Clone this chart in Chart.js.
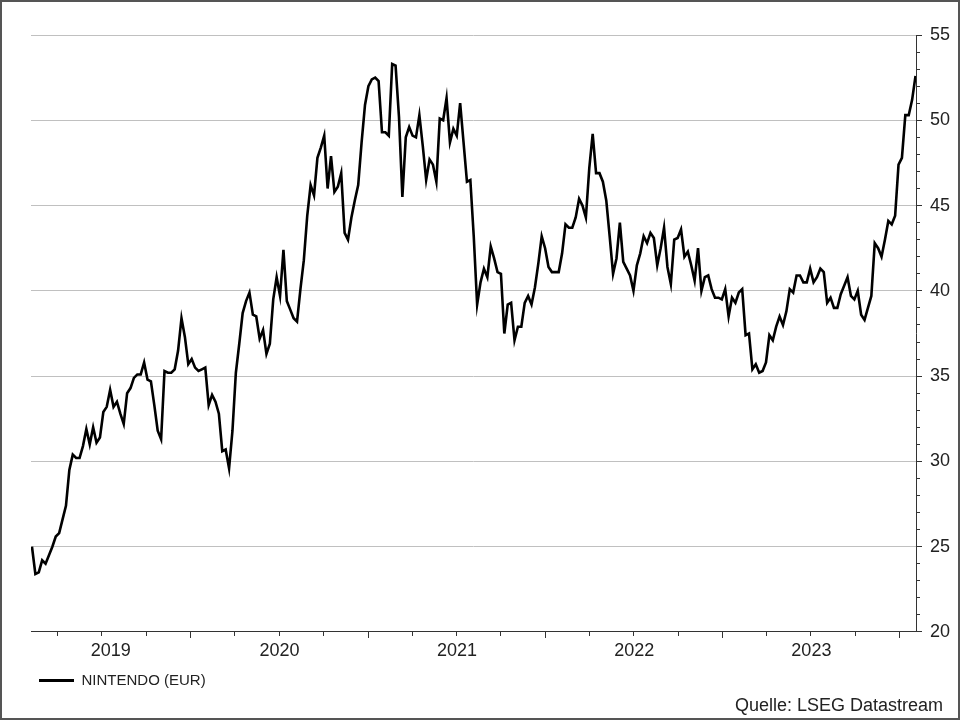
<!DOCTYPE html>
<html>
<head>
<meta charset="utf-8">
<script src="https://cdn.jsdelivr.net/npm/chart.js@4.4.1/dist/chart.umd.min.js"></script>
<style>
  html, body { margin: 0; padding: 0; background: #fff; }
  #wrap { position: relative; width: 960px; height: 720px; }
  #frame { position: absolute; left: 0; top: 0; width: 960px; height: 720px; box-sizing: border-box; border: 2px solid #555; pointer-events: none; }
  canvas { display: block; }
</style>
</head>
<body>
<div id="wrap">
  <canvas id="c" width="960" height="720"></canvas>
  <div id="frame"></div>
</div>
<script>
// ---- Data (weekly closes, EUR) ----
const seriesName = 'NINTENDO (EUR)';
const sourceText = 'Quelle: LSEG Datastream';
const firstWeek = '2019-02-08';           // date of first weekly observation
const axisStart = '2019-02-06';           // left edge of the time axis
const axisEnd = '2024-02-03';             // right edge of the time axis
const yearLabels = ['2019', '2020', '2021', '2022', '2023'];
const yTicks = [20, 25, 30, 35, 40, 45, 50, 55];
const prices = [
  25.0, 23.4, 23.5, 24.2, 24.0, 24.5, 25.0, 25.6, 25.8, 26.6,
  27.4, 29.5, 30.4, 30.2, 30.2, 30.9, 31.9, 31.0, 32.0, 31.1,
  31.4, 32.9, 33.2, 34.2, 33.2, 33.5, 32.8, 32.2, 34.0, 34.3,
  34.9, 35.1, 35.1, 35.8, 34.8, 34.7, 33.3, 31.8, 31.3, 35.3,
  35.2, 35.2, 35.4, 36.5, 38.4, 37.3, 35.7, 36.0, 35.5, 35.3,
  35.4, 35.5, 33.3, 33.9, 33.5, 32.8, 30.6, 30.7, 29.6, 31.8,
  35.2, 36.9, 38.7, 39.4, 39.9, 38.6, 38.5, 37.2, 37.7, 36.3,
  36.9, 39.5, 40.8, 39.7, 42.4, 39.4, 38.9, 38.4, 38.2, 40.1,
  41.8, 44.4, 46.2, 45.6, 47.8, 48.4, 49.1, 46.0, 47.9, 45.8,
  46.1, 46.9, 43.4, 43.0, 44.3, 45.3, 46.2, 48.7, 50.9, 52.0,
  52.4, 52.5, 52.3, 49.3, 49.3, 49.1, 53.3, 53.2, 50.2, 45.5,
  49.0, 49.6, 49.1, 49.0, 50.3, 48.5, 46.5, 47.7, 47.4, 46.4,
  50.1, 50.0, 51.3, 48.7, 49.5, 49.1, 51.0, 48.7, 46.4, 46.5,
  43.2, 39.2, 40.5, 41.3, 40.8, 42.6, 41.9, 41.1, 41.0, 37.5,
  39.2, 39.3, 37.1, 37.9, 37.9, 39.3, 39.7, 39.2, 40.2, 41.6,
  43.2, 42.5, 41.4, 41.1, 41.1, 41.1, 42.2, 43.9, 43.7, 43.7, 44.3,
  45.4, 45.0, 44.3, 47.2, 49.2, 46.9, 46.9, 46.4, 45.3, 43.2,
  41.0, 41.9, 44.0, 41.7, 41.3, 40.9, 40.0, 41.5, 42.2, 43.2,
  42.8, 43.4, 43.1, 41.5, 42.5, 43.7, 41.4, 40.4, 43.0, 43.1,
  43.6, 42.0, 42.3, 41.5, 40.6, 42.5, 40.0, 40.8, 40.9, 40.1,
  39.6, 39.6, 39.5, 40.1, 38.5, 39.6, 39.3, 39.9, 40.1, 37.4,
  37.5, 35.4, 35.7, 35.2, 35.3, 35.8, 37.4, 37.1, 37.9, 38.5,
  38.0, 38.8, 40.1, 39.9, 40.9, 40.9, 40.5, 40.5, 41.3, 40.5,
  40.8, 41.3, 41.1, 39.3, 39.6, 39.0, 39.0, 39.8, 40.3, 40.8,
  39.7, 39.5, 40.0, 38.6, 38.3, 39.0, 39.7, 42.8, 42.5, 42.0,
  43.0, 44.1, 43.9, 44.4, 47.4, 47.8, 50.3, 50.3, 51.2, 52.6
];

// ---- helpers: dates as day numbers since 2019-01-01 ----
const DAY = 864e5;
const ORIGIN = Date.UTC(2019, 0, 1);
function dayNum(iso) { const p = iso.split('-').map(Number); return (Date.UTC(p[0], p[1] - 1, p[2]) - ORIGIN) / DAY; }
function ymdDay(y, m, d) { return (Date.UTC(y, m, d) - ORIGIN) / DAY; }

const xMin = dayNum(axisStart);
const xMax = dayNum(axisEnd);
const d0 = dayNum(firstWeek);
const points = prices.map((v, i) => ({ x: d0 + 7 * i, y: v }));

// quarter tick positions (minor) and January ticks (major)
const quarterTicks = [], janTicks = [];
for (let y = 2019; y <= 2024; y++) {
  for (const m of [0, 3, 6, 9]) {
    const d = ymdDay(y, m, 1);
    if (d >= xMin && d <= xMax) { if (m === 0) janTicks.push(d); else quarterTicks.push(d); }
  }
}
// year labels centred in the visible part of each year
const yearLabelPos = yearLabels.map(s => {
  const y = Number(s);
  const a = Math.max(xMin, ymdDay(y, 0, 1)), b = Math.min(xMax, ymdDay(y + 1, 0, 1));
  return (a + b) / 2;
});

const FONT = "'Liberation Sans', Arial, sans-serif";
const TXT = '#222';
const AXIS = '#333';

const setTicks = arr => scale => { scale.ticks = arr.map(v => ({ value: v })); };

// keep the source note inside the frame, right-aligned like the original
const sourceInset = {
  id: 'sourceInset',
  afterLayout(chart) { if (chart.titleBlock) chart.titleBlock.right = chart.width - 17; }
};

new Chart(document.getElementById('c'), {
  type: 'line',
  data: {
    datasets: [{
      label: seriesName,
      data: points,
      borderColor: '#000',
      backgroundColor: '#000',
      borderWidth: 2.6,
      pointRadius: 0,
      tension: 0,
      fill: false,
      xAxisID: 'x',
      yAxisID: 'y'
    }]
  },
  plugins: [sourceInset],
  options: {
    responsive: false,
    animation: false,
    devicePixelRatio: 1,
    layout: { padding: { left: 31, top: 35, right: 0, bottom: 6 } },
    plugins: {
      tooltip: { enabled: false },
      legend: {
        position: 'bottom',
        align: 'start',
        labels: {
          boxWidth: 35,
          boxHeight: 3,
          padding: 8,
          color: TXT,
          font: { family: FONT, size: 15 },
          generateLabels: chart => [{
            text: seriesName, fillStyle: '#000', strokeStyle: '#000', lineWidth: 0,
            hidden: false, datasetIndex: 0, fontColor: TXT
          }]
        }
      },
      title: {
        display: true,
        position: 'bottom',
        align: 'end',
        text: sourceText,
        color: TXT,
        padding: { top: 0, bottom: 0 },
        font: { family: FONT, size: 18, weight: 'normal', lineHeight: 0.889 }
      }
    },
    scales: {
      x: {
        type: 'linear', position: 'bottom', min: xMin, max: xMax, bounds: 'data', weight: 0,
        afterBuildTicks: setTicks(quarterTicks),
        afterFit: s => { s.height = 0; },
        ticks: { display: false },
        grid: { drawOnChartArea: false, drawTicks: true, tickLength: 4, tickColor: AXIS, tickWidth: 1 },
        border: { display: true, color: AXIS, width: 1 }
      },
      xJan: {
        type: 'linear', position: 'bottom', min: xMin, max: xMax, bounds: 'data', weight: 1,
        afterBuildTicks: setTicks(janTicks),
        afterFit: s => { s.height = 0; },
        ticks: { display: false },
        grid: { drawOnChartArea: false, drawTicks: true, tickLength: 6, tickColor: AXIS, tickWidth: 1 },
        border: { display: false }
      },
      xYear: {
        type: 'linear', position: 'bottom', min: xMin, max: xMax, bounds: 'data', weight: 2,
        afterBuildTicks: setTicks(yearLabelPos),
        afterFit: s => { s.height = 33; },
        ticks: {
          autoSkip: false, maxRotation: 0, padding: 8, color: TXT,
          font: { family: FONT, size: 18 },
          callback: (v, i) => yearLabels[i]
        },
        grid: { display: false, drawTicks: false },
        border: { display: false }
      },
      yMinor: {
        type: 'linear', position: 'right', min: 20, max: 55, weight: 0,
        ticks: { display: false, stepSize: 1 },
        afterFit: s => { s.width = 0; },
        grid: { drawOnChartArea: false, drawTicks: true, tickLength: 4, tickColor: AXIS },
        border: { display: false }
      },
      y: {
        type: 'linear', position: 'right', min: 20, max: 55, weight: 1,
        afterBuildTicks: setTicks(yTicks),
        afterFit: s => { s.width = 44; },
        ticks: { padding: 8, color: TXT, font: { family: FONT, size: 18 } },
        grid: { drawOnChartArea: true, color: '#c0c0c0', lineWidth: 1, drawTicks: true, tickLength: 6, tickColor: AXIS },
        border: { display: true, color: AXIS, width: 1 }
      }
    }
  }
});
</script>
</body>
</html>
